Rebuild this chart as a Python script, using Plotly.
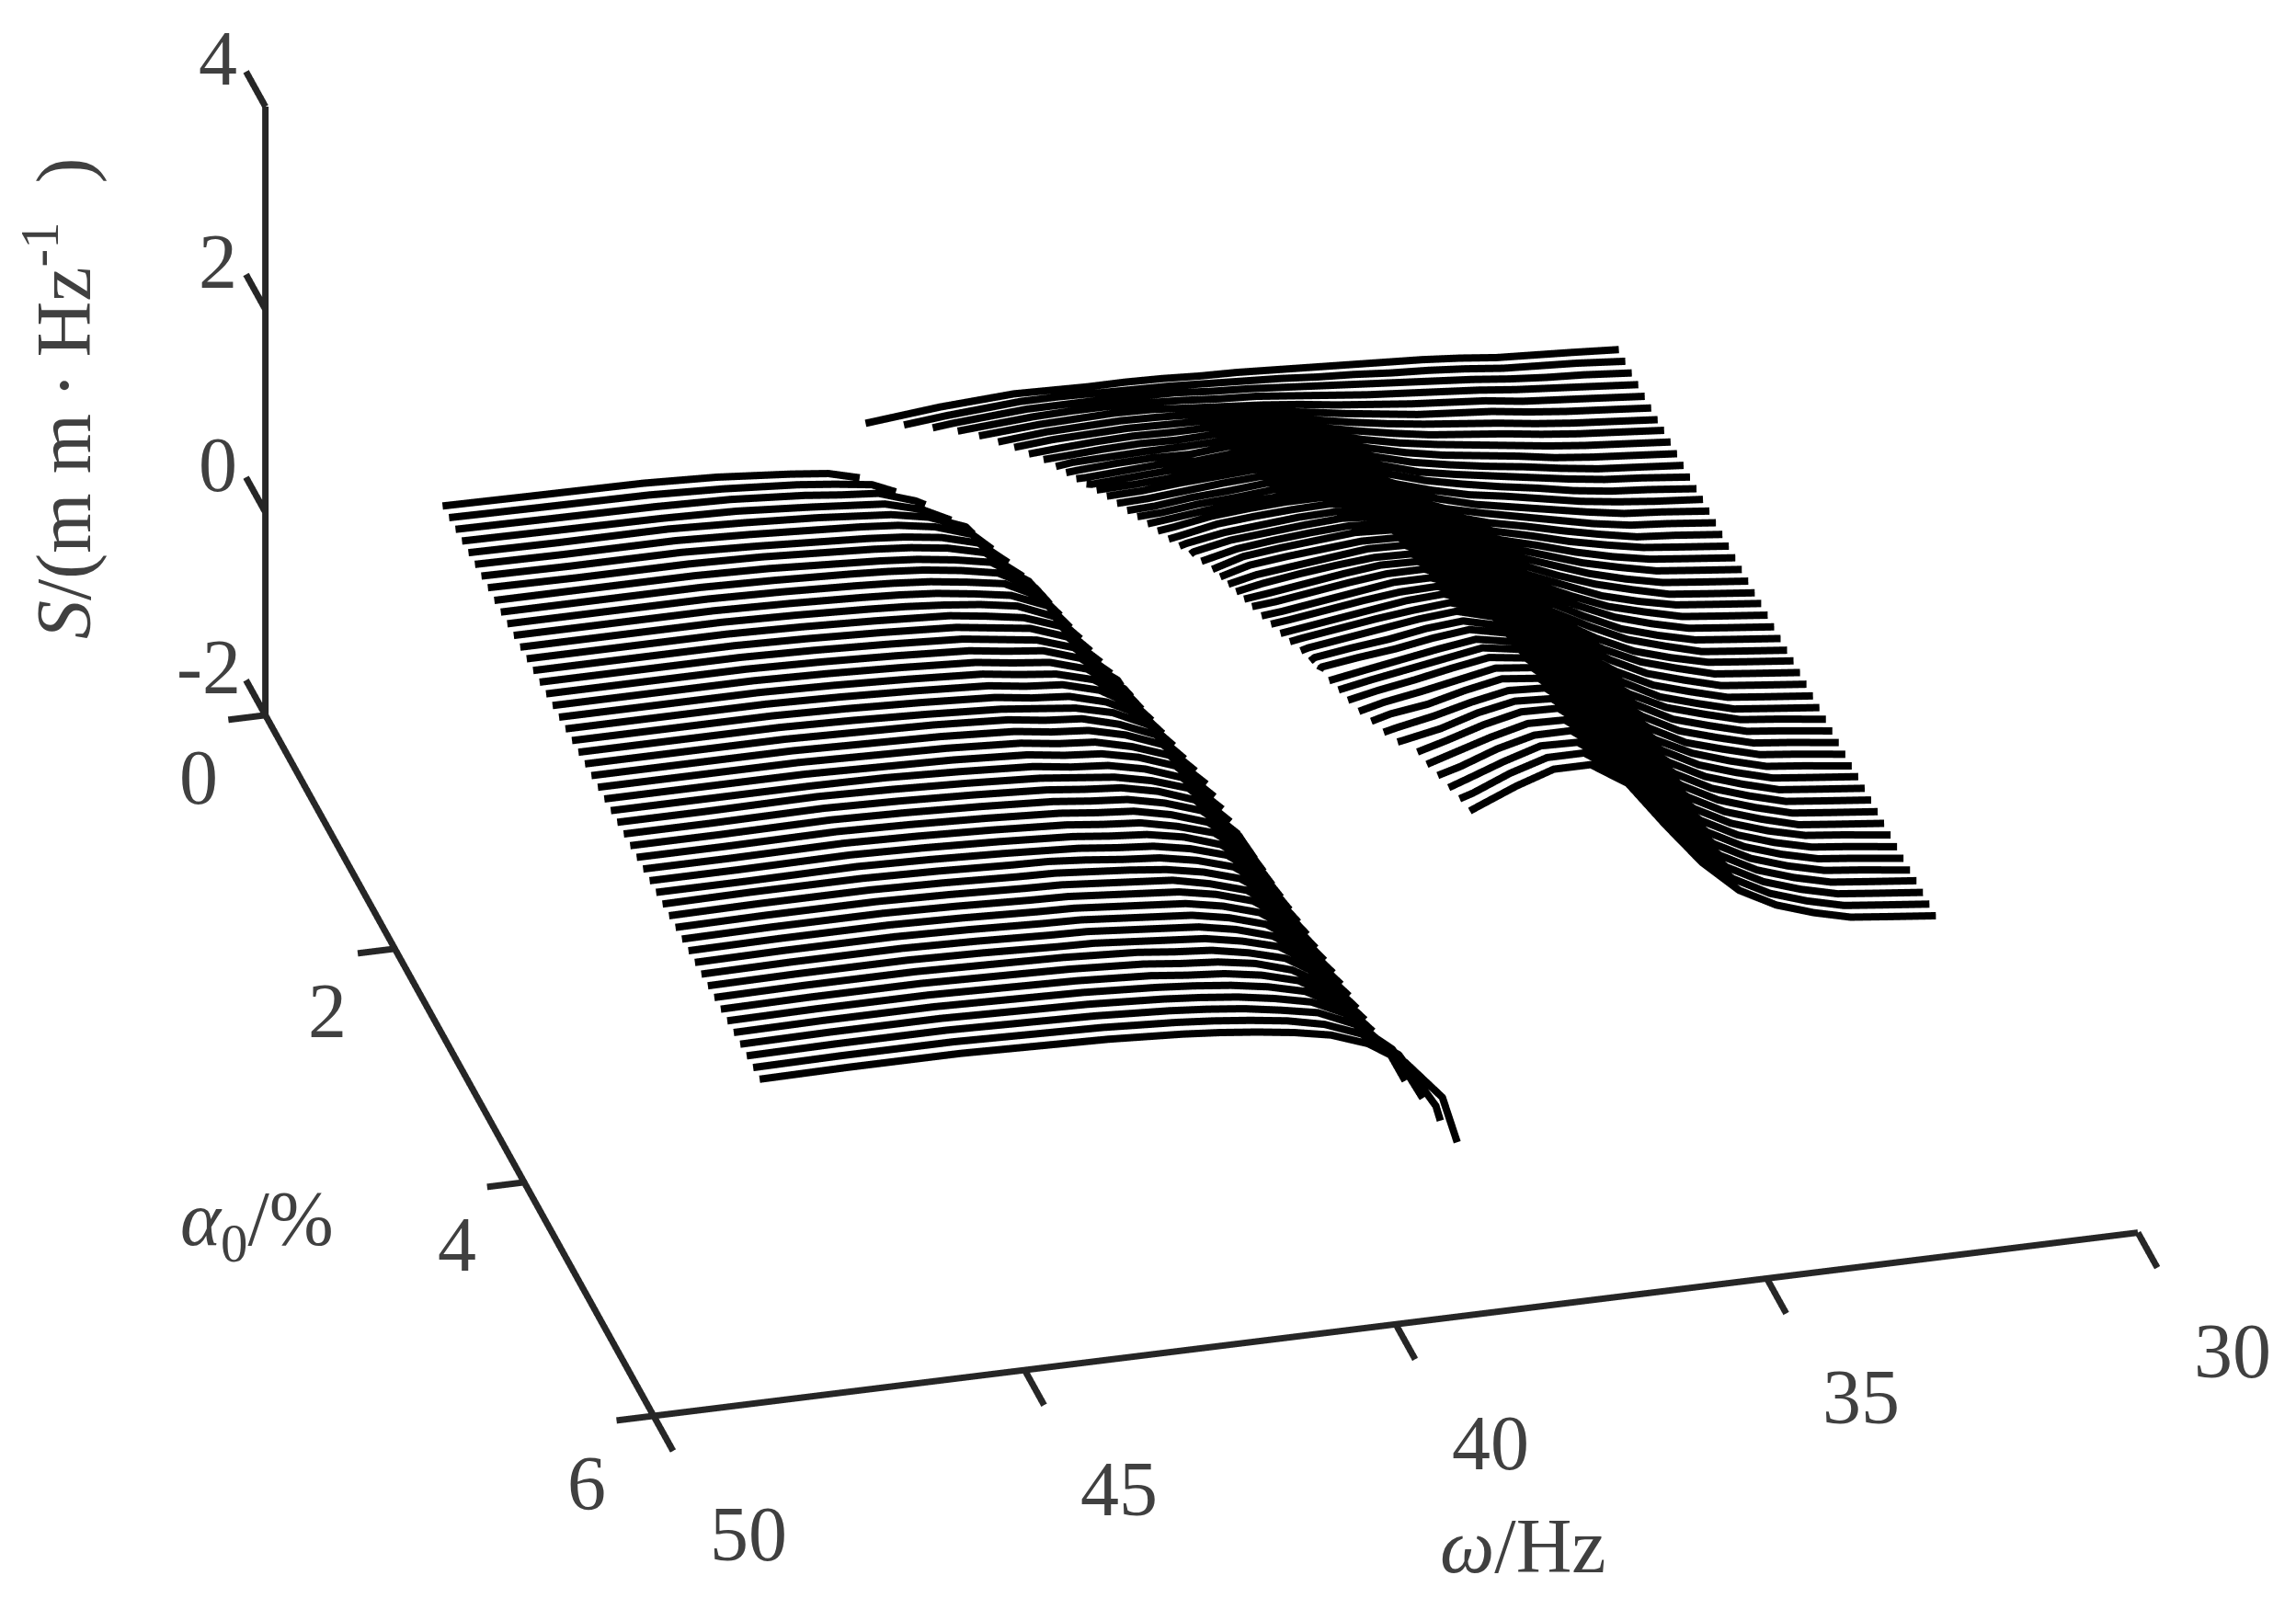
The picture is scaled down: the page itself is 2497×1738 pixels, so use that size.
import plotly.graph_objects as go

alpha0 = [round(0.1*i,1) for i in range(1,51)]
left_grid = [47.7,46.5,45,44,43,42.5,42,41.5,41,40.5,40,39.5,39,38.5]
left_end_omega = [42.08,41.68,41.37,41.11,40.9,40.73,40.6,40.49,40.38,40.3,40.25,40.2,40.15,40.1,40.05,40.0,39.95,39.9,39.85,39.8,39.74,39.68,39.62,39.56,39.5,39.48,39.46,39.44,39.42,39.4,39.37,39.34,39.31,39.28,39.25,39.22,39.19,39.16,39.13,39.1,39.08,39.06,39.04,39.02,39.0,38.89,38.74,38.59,38.44,38.3]
left_end_s = [-26,-32,-36,-42,-46,-51,-54,-57,-61,-63,-63,-64,-64,-65,-65,-65,-66,-66,-67,-67,-69,-70,-72,-73,-75,-76,-77,-78,-79,-80,-81,-82,-84,-85,-86,-87,-88,-90,-91,-92,-92,-92,-93,-93,-93,-104,-121,-128,-140,-151]
left_rows = [
[-3,-4,-5,-8,-14,-18],
[-3,-4,-5,-8,-13,-17,-22],
[-3,-4,-5,-7,-12,-16,-19,-31],
[-3,-4,-5,-7,-12,-15,-18,-28],
[-3,-4,-4,-7,-11,-14,-17,-24,-38],
[-3,-4,-4,-7,-11,-13,-16,-22,-34],
[-3,-4,-4,-7,-11,-13,-16,-21,-31],
[-3,-4,-4,-6,-10,-12,-15,-20,-29],
[-4,-4,-4,-6,-10,-12,-15,-20,-27,-50],
[-4,-4,-4,-6,-9,-11,-14,-19,-26,-45],
[-4,-4,-4,-6,-9,-11,-14,-19,-25,-43],
[-4,-4,-4,-6,-9,-11,-14,-19,-25,-40],
[-4,-4,-4,-6,-9,-11,-14,-18,-24,-39],
[-4,-4,-4,-6,-9,-11,-13,-18,-24,-37],
[-4,-4,-4,-6,-9,-11,-13,-18,-23,-36],
[-4,-4,-4,-6,-9,-11,-13,-18,-23,-35],
[-4,-4,-4,-6,-9,-11,-13,-18,-22,-34,-60],
[-4,-4,-4,-6,-9,-11,-13,-18,-22,-33,-57],
[-4,-4,-4,-6,-9,-11,-13,-18,-22,-32,-54],
[-4,-4,-4,-6,-9,-11,-13,-18,-21,-31,-52],
[-4,-4,-4,-6,-9,-11,-13,-18,-21,-31,-49],
[-4,-4,-4,-6,-9,-11,-13,-17,-21,-30,-47],
[-4,-4,-4,-6,-8,-10,-12,-17,-20,-30,-45],
[-4,-4,-4,-6,-8,-10,-12,-17,-20,-29,-43],
[-4,-4,-4,-6,-8,-10,-12,-17,-20,-29,-42],
[-4,-4,-4,-6,-8,-10,-12,-17,-20,-28,-41],
[-4,-4,-4,-5,-8,-10,-12,-17,-20,-28,-41],
[-4,-4,-3,-5,-8,-10,-12,-16,-20,-28,-40],
[-4,-4,-3,-5,-8,-10,-12,-16,-19,-27,-40],
[-4,-4,-3,-5,-8,-10,-12,-16,-19,-27,-39,-68],
[-4,-4,-3,-5,-8,-10,-12,-16,-19,-27,-39,-66],
[-4,-4,-3,-5,-8,-10,-12,-16,-19,-27,-38,-65],
[-4,-4,-3,-5,-8,-10,-12,-16,-19,-26,-38,-64],
[-4,-4,-3,-5,-8,-10,-12,-16,-19,-26,-37,-63],
[-4,-3,-3,-5,-8,-9,-12,-16,-19,-26,-37,-62],
[-4,-3,-3,-5,-8,-9,-12,-15,-19,-26,-37,-62],
[-4,-3,-3,-5,-8,-9,-12,-15,-18,-26,-37,-61],
[-4,-3,-3,-5,-8,-9,-12,-15,-18,-25,-36,-61],
[-4,-3,-3,-5,-8,-9,-12,-15,-18,-25,-36,-60],
[-4,-3,-3,-5,-8,-9,-12,-15,-18,-25,-36,-60],
[-4,-3,-3,-5,-8,-9,-12,-15,-18,-25,-36,-59],
[-4,-3,-3,-5,-8,-9,-12,-15,-18,-25,-35,-58],
[-4,-3,-3,-5,-7,-9,-11,-15,-18,-25,-35,-57],
[-4,-3,-3,-5,-7,-9,-11,-15,-18,-24,-35,-56],
[-4,-3,-3,-5,-7,-9,-11,-15,-18,-24,-34,-55],
[-4,-3,-3,-5,-7,-9,-11,-14,-18,-24,-33,-52,-95],
[-4,-3,-3,-5,-7,-9,-11,-14,-18,-24,-32,-49,-85],
[-4,-3,-3,-5,-7,-9,-11,-14,-18,-24,-31,-47,-76],
[-4,-3,-3,-5,-7,-9,-11,-14,-18,-23,-31,-45,-70,-125],
[-4,-3,-3,-5,-7,-9,-11,-14,-18,-23,-30,-43,-66,-105],
]
right_grid = [41,40,39,38,37.5,37,36.5,36,35.5,35,34.5,34,33,31.85]
right_start_omega = [42,41.57,41.27,41.02,40.82,40.65,40.52,40.41,40.3,40.22,40.17,40.12,40.07,40.02,39.97,39.92,39.87,39.82,39.77,39.72,39.66,39.6,39.54,39.48,39.42,39.4,39.38,39.36,39.34,39.32,39.28,39.24,39.2,39.16,39.1,39.06,39.02,38.98,38.94,38.9,38.84,38.76,38.68,38.58,38.4,38.36,38.3,38.24,38.18,38.13]
right_start_s = [27,33,39,45,50,54,59,63,68,72,77,82,88,93,98,102,106,111,115,119,122,126,129,133,136,140,144,148,152,156,158,161,163,166,168,169,171,172,174,175,175,176,176,177,177,176,176,175,175,174]
right_rows = [
[34,38,36,35,33,32,30,28,26,24,22,19,13,8],
[37,42,41,39,37,35,33,30,28,25,23,20,14,8],
[41,46,46,44,41,39,36,33,30,27,24,21,14,8],
[50,51,48,45,43,39,35,31,28,25,22,15,8],
[54,56,52,49,46,42,37,33,29,26,23,15,8],
[58,60,57,54,51,46,40,35,30,27,24,15,8],
[62,64,62,59,56,50,43,37,32,28,24,15,8],
[65,68,67,65,62,54,46,39,33,29,25,16,9],
[69,72,72,70,67,59,49,41,35,30,25,16,9],
[74,76,77,76,72,63,52,43,36,31,26,16,9],
[78,81,83,81,77,67,55,45,38,32,27,16,9],
[82,86,88,87,82,71,58,47,40,34,28,17,9],
[87,91,94,92,87,75,61,50,42,35,29,17,9],
[96,100,98,92,79,63,52,43,37,30,18,10],
[102,106,105,98,84,67,55,45,38,31,18,10],
[106,111,110,103,88,71,57,48,40,32,18,10],
[111,116,115,108,93,76,61,50,42,33,18,10],
[116,121,120,113,98,80,65,53,44,34,19,10],
[121,126,125,119,104,85,68,56,46,35,19,10],
[127,132,132,127,112,92,74,60,48,36,19,10],
[131,136,137,132,117,96,78,63,50,37,19,10],
[134,140,141,137,122,101,82,66,51,38,19,10],
[138,144,146,143,126,105,86,68,53,38,20,11],
[141,148,150,148,131,110,90,71,54,39,20,11],
[145,152,155,153,136,114,94,74,56,40,20,11],
[148,155,158,157,140,118,97,76,57,40,20,11],
[150,158,162,161,145,121,99,77,58,41,20,11],
[153,162,165,164,149,125,102,79,58,41,21,12],
[155,165,169,168,154,128,104,80,59,42,21,12],
[158,168,172,172,158,132,107,82,60,42,21,12],
[160,170,175,175,162,136,110,83,60,42,21,12],
[163,173,177,178,166,139,112,84,61,42,21,12],
[165,175,180,182,170,143,115,86,61,43,22,12],
[168,178,182,185,174,146,117,87,62,43,22,12],
[170,180,185,188,178,150,120,88,62,43,22,12],
[172,181,187,190,181,153,122,89,62,43,22,12],
[174,183,189,193,185,156,124,90,62,44,22,12],
[184,190,195,188,159,126,90,63,44,22,13],
[186,192,198,192,162,128,91,63,44,22,13],
[187,194,200,195,165,130,92,63,44,22,13],
[187,194,201,197,167,131,93,63,44,22,13],
[186,195,202,198,169,132,93,63,44,22,13],
[186,195,202,200,172,133,94,63,44,23,13],
[185,196,203,201,174,134,94,63,44,23,13],
[185,196,204,203,176,135,95,63,44,23,13],
[184,195,204,203,177,135,95,63,44,23,13],
[182,195,204,204,178,136,95,63,44,23,14],
[181,194,205,204,179,136,95,63,44,23,14],
[179,194,205,205,181,137,95,63,44,23,14],
[178,193,205,205,182,137,95,63,44,23,14],
]
right_at_39_5 = [37,42,46,51,55,59,63,67,71,75,80,84,89,94,99,103,107,112,117,121,124,128,131]
right_at_38_5 = [36,40,45,50,55,59,63,67,71,76,80,85,91,98,104,109,113,118,124,130,134,137,141,145,149,152,154,158,160,163,165,168,170,173,175,177,179,178,180,181,181,181,179,178]
right_at_33_5 = [15,16,17,18,18,19,19,20,20,20,21,22,22,23,24,24,25,26,26,27,27,28,28,29,29,29,30,30,31,31,31,31,32,32,32,32,32,32,32,32,32,32,32,32,32,32,32,32,32,32]
right_at_32_5 = [11,12,12,12,12,12,12,13,13,13,13,14,14,14,15,15,15,15,15,15,15,15,16,16,16,16,16,17,17,17,17,17,18,18,18,18,18,18,18,18,18,18,19,19,19,19,19,19,19,19]
omega_ticks=[30,35,40,45,50]; alpha_ticks=[0,2,4,6]; s_ticks=[-2,0,2,4]
W0,W1=30,50; A0,A1=0,6; Z0,Z1=-2,4
AX="#262626"; TXT="#404040"; FONT="Liberation Serif"; FS=84
fig = go.Figure()
def seg(xs,ys,zs,w=14,c=AX):
    fig.add_trace(go.Scatter3d(x=xs,y=ys,z=zs,mode="lines",line=dict(color=c,width=w),showlegend=False,hoverinfo="skip"))
def straight(p,q):
    seg([p[0],q[0]],[p[1],q[1]],[p[2],q[2]])
for i,a in enumerate(alpha0):
    row=left_rows[i]
    w=left_grid[:len(row)]+[left_end_omega[i]]
    s=[v/100 for v in row]+[left_end_s[i]/100]
    seg(w,[a]*len(w),s,16,"black")
    row=right_rows[i]
    pts=dict(zip(right_grid[-len(row):],row))
    pts[right_start_omega[i]]=right_start_s[i]
    if i<len(right_at_39_5): pts[39.5]=right_at_39_5[i]
    if i<len(right_at_38_5): pts[38.5]=right_at_38_5[i]
    pts[33.5]=right_at_33_5[i]; pts[32.5]=right_at_32_5[i]
    w=sorted(pts,reverse=True)
    seg(w,[a]*len(w),[pts[k]/100 for k in w],16,"black")
straight((W1,A1,Z0),(W0,A1,Z0)); straight((W1,A0,Z0),(W1,A1,Z0)); straight((W1,A0,Z0),(W1,A0,Z1))
ann=[]
def lab(x,y,z,t,dx,dy):
    ann.append(dict(x=x,y=y,z=z,text=str(t),showarrow=False,xshift=dx,yshift=dy,font=dict(family=FONT,size=FS,color=TXT)))
for t in omega_ticks:
    straight((t,A1,Z0),(t,A1+0.3,Z0)); lab(t,A1,Z0,t,103,-129)
for t in alpha_ticks:
    straight((W1,t,Z0),(W1+0.5,t,Z0)); lab(W1,t,Z0,t,-73,-68 if t!=6 else -74)
for t in s_ticks:
    straight((W1,A0,t),(W1,A0-0.3,t)); lab(W1,A0,t,t,-52 if t!=-2 else -62,52)
ax = dict(showgrid=False,zeroline=False,showbackground=False,showspikes=False,showline=False,ticks="",showticklabels=False,title=dict(text=""))
c=dict(x=0.0537,y=0.0681,z=-0.1483); r=1.0; d=(0.2231,0.853,0.4722)
def note(text,x,y,angle=0):
    return dict(text=text,x=x/2497,y=1-y/1738,xref="paper",yref="paper",xanchor="center",yanchor="middle",showarrow=False,textangle=angle,font=dict(family=FONT,size=FS,color=TXT))
fig.update_layout(width=2497,height=1738,margin=dict(l=0,r=0,t=0,b=0),paper_bgcolor="white",showlegend=False,
  annotations=[
    note("<i>S</i>/(m m\u2009·\u2009Hz<sup>-1</sup>  )",56,425,-90),
    note("<i>α</i><sub>0</sub>/%",271,1324),
    note("<i>ω</i>/Hz",1648,1673),
  ],
  scene=dict(domain=dict(x=[0,1],y=[0,1]),annotations=ann,
    xaxis=dict(ax,range=[W0-0.1,W1+0.6]),
    yaxis=dict(ax,range=[A0-0.35,A1+0.35]),
    zaxis=dict(ax,range=[Z0-0.1,Z1+0.1]),
    aspectmode="manual",aspectratio=dict(x=1.9872,y=2.144,z=0.8928),
    camera=dict(projection=dict(type="orthographic"),up=dict(x=0,y=0,z=1),center=c,
                eye=dict(x=c["x"]+d[0]*r,y=c["y"]+d[1]*r,z=c["z"]+d[2]*r))))
fig.write_html("out.html")
